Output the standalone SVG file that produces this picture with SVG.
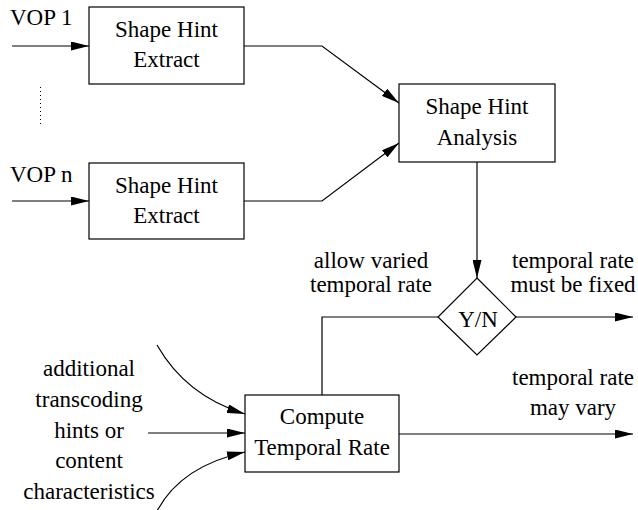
<svg xmlns="http://www.w3.org/2000/svg" width="638" height="510" viewBox="0 0 638 510">
<style>
text{font-family:"Liberation Serif","Times New Roman",serif;font-size:23px;fill:#000}
.c{text-anchor:middle}
.box{fill:#fff;stroke:#000;stroke-width:1.2}
.ln{fill:none;stroke:#000;stroke-width:1.2}
</style>
<defs>
<marker id="ah" markerUnits="userSpaceOnUse" markerWidth="18" markerHeight="9" refX="18" refY="4.5" orient="auto">
<path d="M0,0 L18,4.5 L0,9 z" fill="#000"/>
</marker>
</defs>
<rect width="638" height="510" fill="#fff"/>
<g id="connectors">
<line class="ln" x1="12" y1="46" x2="89" y2="46" marker-end="url(#ah)"/>
<line class="ln" x1="12" y1="201" x2="89" y2="201" marker-end="url(#ah)"/>
<line x1="40.5" y1="87" x2="40.5" y2="127" stroke="#000" stroke-width="1" stroke-dasharray="1,3"/>
<polyline class="ln" points="244,46 322,46 399,103" marker-end="url(#ah)"/>
<polyline class="ln" points="244,201 322,201 399,143" marker-end="url(#ah)"/>
<line class="ln" x1="477" y1="162" x2="477" y2="278" marker-end="url(#ah)"/>
<line class="ln" x1="516" y1="317" x2="633" y2="317" marker-end="url(#ah)"/>
<polyline class="ln" points="438,317 322,317 322,395"/>
<line class="ln" x1="399" y1="434" x2="633" y2="434" marker-end="url(#ah)"/>
<line class="ln" x1="148" y1="433" x2="245" y2="433" marker-end="url(#ah)"/>
<path class="ln" d="M157,345 Q186,396 245,414" marker-end="url(#ah)"/>
<path class="ln" d="M157,511 Q181,466 245,452" marker-end="url(#ah)"/>
</g>
<g id="vop1"><text x="10" y="25">VOP 1</text></g>
<g id="vopn"><text x="10" y="182">VOP n</text></g>
<g id="extract1">
<rect class="box" x="89" y="7" width="155" height="77"/>
<text class="c" x="166.5" y="37">Shape Hint</text>
<text class="c" x="166.5" y="67">Extract</text>
</g>
<g id="extractn">
<rect class="box" x="89" y="163" width="155" height="76"/>
<text class="c" x="166.5" y="193">Shape Hint</text>
<text class="c" x="166.5" y="223">Extract</text>
</g>
<g id="analysis">
<rect class="box" x="399" y="84" width="156" height="78"/>
<text class="c" x="477" y="114">Shape Hint</text>
<text class="c" x="477" y="145">Analysis</text>
</g>
<g id="decision">
<polygon class="box" points="477,278 516,317 477,355 438,317"/>
<text class="c" x="478" y="327">Y/N</text>
</g>
<g id="compute">
<rect class="box" x="245" y="395" width="154" height="77"/>
<text class="c" x="322" y="424">Compute</text>
<text class="c" x="322" y="455">Temporal Rate</text>
</g>
<g id="label-allow">
<text class="c" x="371" y="268">allow varied</text>
<text class="c" x="371" y="292">temporal rate</text>
</g>
<g id="label-fixed">
<text class="c" x="573" y="268">temporal rate</text>
<text class="c" x="573" y="292">must be fixed</text>
</g>
<g id="label-vary">
<text class="c" x="573" y="385">temporal rate</text>
<text class="c" x="573" y="415">may vary</text>
</g>
<g id="label-hints">
<text class="c" x="89" y="376">additional</text>
<text class="c" x="89" y="407">transcoding</text>
<text class="c" x="89" y="438">hints or</text>
<text class="c" x="89" y="468">content</text>
<text class="c" x="89" y="499">characteristics</text>
</g>
</svg>
